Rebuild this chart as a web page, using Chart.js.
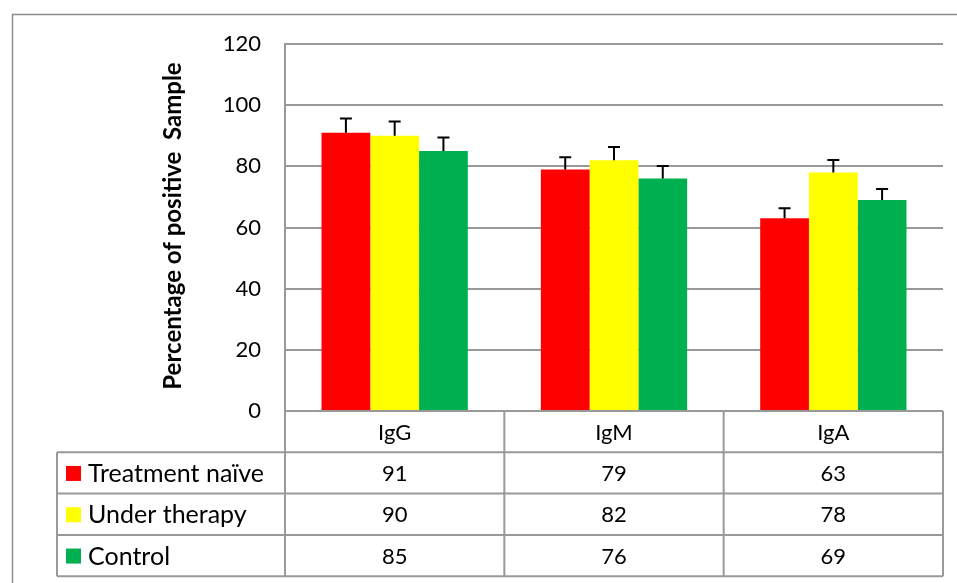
<!DOCTYPE html>
<html>
<head>
<meta charset="utf-8">
<script src="https://cdn.jsdelivr.net/npm/chart.js@4"></script>
<style>
  html, body { margin: 0; padding: 0; background: #fff; }
  canvas { display: block; }
</style>
</head>
<body>
<canvas id="chart" width="957" height="583"></canvas>
<script>
// ======================== Data ========================
const categories = ["IgG", "IgM", "IgA"];
const seriesNames = ["Treatment naïve", "Under therapy", "Control"];
const treatmentNaive = [91, 79, 63];
const underTherapy = [90, 82, 78];
const control = [85, 76, 69];
// upward error bars
const errNaive = [4.6, 4.0, 3.3];
const errTherapy = [4.7, 4.3, 4.1];
const errControl = [4.4, 4.1, 3.6];
const yTicks = [0, 20, 40, 60, 80, 100, 120];

const colors = ["#FF0000", "#FFFF00", "#00B050"];
const FONT = "Lato, 'Liberation Sans', sans-serif";
const LINE = "#999999";

// ======================== Plugins ========================
const errorBars = {
    id: "errorBars",
    afterDatasetsDraw(chart) {
        const ctx = chart.ctx;
        const y = chart.scales.y;
        ctx.save();
        ctx.strokeStyle = "#000";
        ctx.lineWidth = 2;
        chart.data.datasets.forEach((ds, i) => {
            const meta = chart.getDatasetMeta(i);
            meta.data.forEach((bar, j) => {
                let top = y.getPixelForValue(ds.data[j] + ds.errors[j]);
                ctx.beginPath();
                ctx.moveTo(bar.x, bar.y);
                ctx.lineTo(bar.x, top);
                ctx.moveTo(bar.x - 6, top);
                ctx.lineTo(bar.x + 6, top);
                ctx.stroke();
            });
        });
        ctx.restore();
    }
};

const dataTable = {
    id: "dataTable",
    afterDraw(chart) {
        const ctx = chart.ctx;
        const area = chart.chartArea;
        const x = chart.scales.x;
        const left = area.left, right = area.right, top = area.bottom;
        const colW = (right - left) / categories.length;
        const rowH = 41.3;
        const tableLeft = 57;
        const rows = [treatmentNaive, underTherapy, control];

        ctx.save();
        ctx.strokeStyle = LINE;
        ctx.lineWidth = 2;
        ctx.beginPath();
        // header row
        ctx.moveTo(left, top); ctx.lineTo(right, top);
        for (let r = 1; r <= rows.length + 1; r++) {
            let yy = top + r * rowH;
            ctx.moveTo(tableLeft, yy); ctx.lineTo(right, yy);
        }
        for (let c = 0; c <= categories.length; c++) {
            let xx = left + c * colW;
            ctx.moveTo(xx, top); ctx.lineTo(xx, top + (rows.length + 1) * rowH);
        }
        ctx.moveTo(tableLeft, top + rowH); ctx.lineTo(tableLeft, top + (rows.length + 1) * rowH);
        ctx.stroke();

        ctx.fillStyle = "#000";
        ctx.font = "22px " + FONT;
        ctx.textAlign = "center";
        ctx.textBaseline = "middle";
        categories.forEach((cat, c) => {
            ctx.fillText(cat, x.getPixelForValue(c), top + rowH / 2 + 1);
        });
        rows.forEach((vals, r) => {
            let cy = top + (r + 1.5) * rowH + 1;
            ctx.font = "22px " + FONT;
            vals.forEach((v, c) => {
                ctx.fillText(String(v), x.getPixelForValue(c), cy);
            });
            ctx.fillStyle = colors[r];
            ctx.fillRect(66, cy - 8, 15, 15);
            ctx.fillStyle = "#000";
            ctx.textAlign = "left";
            ctx.font = "25px " + FONT;
            ctx.fillText(seriesNames[r], 88, cy);
            ctx.textAlign = "center";
        });

        // y axis title
        ctx.font = "bold 24px " + FONT;
        ctx.translate(173, 226);
        ctx.rotate(-Math.PI / 2);
        ctx.fillText("Percentage of positive  Sample", 0, 0);
        ctx.restore();

        // outer frame
        ctx.save();
        ctx.strokeStyle = "#8c8c8c";
        ctx.lineWidth = 1.5;
        ctx.strokeRect(12.5, 14.5, 1000, 1000);
        ctx.restore();
    }
};

// ======================== Chart ========================
let ctx = document.getElementById("chart").getContext("2d");

let chart = new Chart(ctx, {
    type: "bar",
    data: {
        labels: categories,
        datasets: [
            { label: seriesNames[0], data: treatmentNaive, errors: errNaive, backgroundColor: colors[0] },
            { label: seriesNames[1], data: underTherapy, errors: errTherapy, backgroundColor: colors[1] },
            { label: seriesNames[2], data: control, errors: errControl, backgroundColor: colors[2] }
        ]
    },
    options: {
        responsive: false,
        animation: false,
        events: [],
        layout: { padding: { left: 0, top: 44, right: 14, bottom: 172 } },
        datasets: { bar: { categoryPercentage: 0.667, barPercentage: 1.0 } },
        plugins: { legend: { display: false }, tooltip: { enabled: false } },
        scales: {
            x: { display: false },
            y: {
                min: 0,
                max: 120,
                afterFit(scale) { scale.width = 285; },
                afterBuildTicks(scale) { scale.ticks = yTicks.map(v => ({ value: v })); },
                ticks: { padding: 24, color: "#000", font: { size: 22, family: FONT } },
                grid: { color: LINE, lineWidth: 2, drawTicks: false },
                border: { color: LINE, width: 2 }
            }
        }
    },
    plugins: [errorBars, dataTable]
});
</script>
</body>
</html>
